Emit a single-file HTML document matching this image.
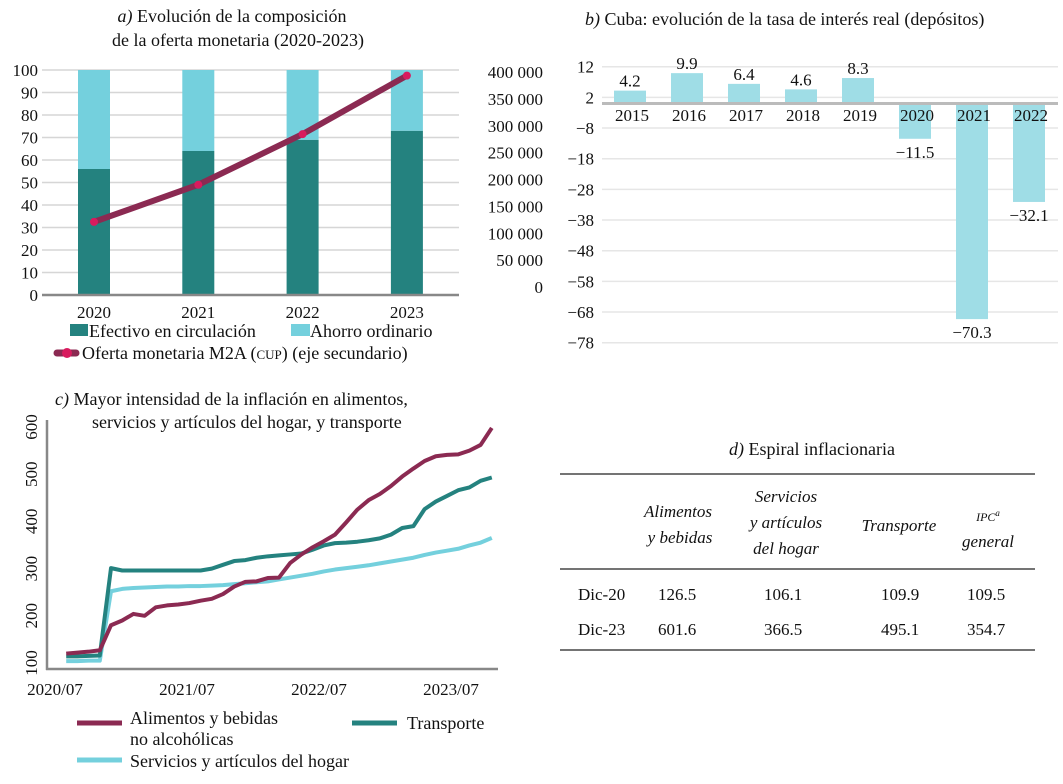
<!DOCTYPE html>
<html><head><meta charset="utf-8"><style>
html,body{margin:0;padding:0;background:#fff}
svg, svg text{font-family:"Liberation Serif","DejaVu Serif",serif}
</style></head><body>
<svg id="s" width="1063" height="779" viewBox="0 0 1063 779" xmlns="http://www.w3.org/2000/svg" font-family="Liberation Serif, serif">
<g id="pa"></g>
<g id="pb"></g>
<g id="pc"></g>
<g id="pd" font-size="17" fill="#111">
 <text x="812" y="455" text-anchor="middle" font-size="18"><tspan font-style="italic">d)</tspan> Espiral inflacionaria</text>
 <line x1="560" y1="474" x2="1035" y2="474" stroke="#222" stroke-width="1.3"/>
 <line x1="560" y1="569" x2="1035" y2="569" stroke="#222" stroke-width="1.3"/>
 <line x1="560" y1="650" x2="1035" y2="650" stroke="#222" stroke-width="1.3"/>
 <g font-style="italic" text-anchor="middle">
  <text x="678" y="517">Alimentos</text>
  <text x="680" y="543">y bebidas</text>
  <text x="786" y="502">Servicios</text>
  <text x="786" y="528">y artículos</text>
  <text x="786" y="554">del hogar</text>
  <text x="899" y="531">Transporte</text>
  <text x="988" y="521" font-size="12">IPC<tspan font-size="9" dy="-5">a</tspan></text>
  <text x="988" y="547">general</text>
 </g>
 <g>
  <text x="578" y="600">Dic-20</text><text x="658" y="600">126.5</text><text x="764" y="600">106.1</text><text x="881" y="600">109.9</text><text x="967" y="600">109.5</text>
 </g>
 <g>
  <text x="578" y="635">Dic-23</text><text x="658" y="635">601.6</text><text x="764" y="635">366.5</text><text x="881" y="635">495.1</text><text x="967" y="635">354.7</text>
 </g>
</g>
</svg>
<script>
// ---- Panel a data ----
const aYears = ["2020","2021","2022","2023"];
const aEfectivo = [56, 64, 69, 73];
const aAhorro = [44, 36, 31, 27];
const aM2A = [130000, 196000, 286000, 390000];
const aLeftTicks = [0,10,20,30,40,50,60,70,80,90,100];
const aRightTicks = [0,50000,100000,150000,200000,250000,300000,350000,400000];
// ---- Panel b data ----
const bYears = ["2015","2016","2017","2018","2019","2020","2021","2022"];
const bRates = [4.2, 9.9, 6.4, 4.6, 8.3, -11.5, -70.3, -32.1];
const bTicks = [12,2,-8,-18,-28,-38,-48,-58,-68,-78];
// ---- Panel c data (monthly, 2020/08 .. 2023/10) ----
const cFood = [120,122,124,127,180,190,204,200,218,222,224,227,232,236,246,262,272,273,280,281,312,330,345,358,372,398,425,445,458,475,495,512,528,538,541,542,550,562,598];
const cTransport = [114,114,115,116,301,296,296,296,296,296,296,296,296,300,308,316,318,323,326,328,330,332,340,349,354,355,357,360,364,372,386,390,426,442,454,466,472,486,493];
const cServices = [104,104,105,105,252,257,259,260,261,262,262,263,263,264,265,267,269,271,273,277,281,285,289,294,298,301,304,307,311,315,319,323,329,334,338,342,349,355,365];
const cTicks = [100,200,300,400,500,600];
const cXLabels = ["2020/07","2021/07","2022/07","2023/07"];

const NS="http://www.w3.org/2000/svg";
function mk(parent,tag,attrs,txt){const e=document.createElementNS(NS,tag);for(const k in attrs)e.setAttribute(k,attrs[k]);if(tag==='text')e.setAttribute('font-family','Liberation Serif, serif');if(txt!==undefined)e.textContent=txt;parent.appendChild(e);return e;}

// ===== Panel a =====
(function(){
 const g=document.getElementById('pa');
 const y=v=>295-v*2.25;
 const y2=v=>295-v/400000*225;
 const xc=i=>94+i*104.3;
 let t=mk(g,'text',{x:232,y:22,'text-anchor':'middle','font-size':18,fill:'#111'});
 
 
 t.innerHTML='<tspan font-style="italic">a)</tspan> Evolución de la composición';
 t=mk(g,'text',{x:238,y:46,'text-anchor':'middle','font-size':18,fill:'#111'},'de la oferta monetaria (2020-2023)');
 
 
 aLeftTicks.forEach(v=>{
  if(v>0){const l=mk(g,'line',{x1:42,x2:459,y1:y(v),y2:y(v),stroke:'#d6d6d6','stroke-width':1.5});
  
  }
  const tx=mk(g,'text',{x:38,y:y(v)+6,'text-anchor':'end','font-size':17,fill:'#111'},String(v));
  
  
 });
 aRightTicks.forEach(v=>{
  const ly=293-v/400000*215;
  const tx=mk(g,'text',{x:543,y:ly,'text-anchor':'end','font-size':17,fill:'#111'},v===0?'0':(v/1000)+' 000');
  
  
 });
 aYears.forEach((yr,i)=>{
  const r1=mk(g,'rect',{x:xc(i)-16,y:y(aEfectivo[i]),width:32,height:y(0)-y(aEfectivo[i]),fill:'#24827f'});
  
  
  const top=aEfectivo[i]+aAhorro[i];
  const r2=mk(g,'rect',{x:xc(i)-16,y:y(top),width:32,height:y(aEfectivo[i])-y(top),fill:'#74d0dd'});
  
  
  const tx=mk(g,'text',{x:xc(i),y:318,'text-anchor':'middle','font-size':17,fill:'#111'},yr);
  
  
 });
 const ax=mk(g,'line',{x1:42,x2:459,y1:295,y2:295,stroke:'#888','stroke-width':2.5});
 
 
 const pts=aM2A.map((v,i)=>xc(i)+','+y2(v)).join(' ');
 const pl=mk(g,'polyline',{points:pts,fill:'none',stroke:'#8b2a52','stroke-width':6,'stroke-linecap':'round'});
 
 
 aM2A.forEach((v,i)=>{const c=mk(g,'circle',{cx:xc(i),cy:y2(v),r:4,fill:'#d81b5e'});
  
  });
 let s=mk(g,'rect',{x:70,y:324,width:18,height:12,fill:'#24827f'});
 
 
 t=mk(g,'text',{x:89,y:337,'font-size':18,fill:'#111'},'Efectivo en circulación');
 
 
 s=mk(g,'rect',{x:291,y:324,width:19,height:12,fill:'#74d0dd'});
 
 
 t=mk(g,'text',{x:310,y:337,'font-size':18,fill:'#111'},'Ahorro ordinario');
 
 
 s=mk(g,'line',{x1:57,x2:76,y1:353,y2:353,stroke:'#8b2a52','stroke-width':7,'stroke-linecap':'round'});
 
 
 s=mk(g,'circle',{cx:67,cy:353,r:5,fill:'#d81b5e'});
 
 
 t=mk(g,'text',{x:82,y:359,'font-size':18,fill:'#111'});
 
 
 t.innerHTML='Oferta monetaria M2A (<tspan font-size="13">CUP</tspan>) (eje secundario)';
})();

// ===== Panel b =====
(function(){
 const g=document.getElementById('pb');
 const y=v=>103.5-v*3.067;
 const xc=i=>630+i*57;
 let t=mk(g,'text',{x:585,y:25,'font-size':18,fill:'#111'});
 
 
 t.innerHTML='<tspan font-style="italic">b)</tspan> Cuba: evolución de la tasa de interés real (depósitos)';
 bTicks.forEach(v=>{
  const l=mk(g,'line',{x1:602,x2:1058,y1:y(v),y2:y(v),stroke:'#e6e6e6','stroke-width':1.5});
  
  
  const tx=mk(g,'text',{x:594,y:y(v)+6,'text-anchor':'end','font-size':17,fill:'#111'},v<0?'\u2212'+(-v):String(v));
  
  
 });
 bYears.forEach((yr,i)=>{
  const v=bRates[i];
  const r=mk(g,'rect',{x:xc(i)-16,y:Math.min(y(v),y(0)),width:32,height:Math.abs(y(v)-y(0)),fill:'#9fdde6'});
  
  
  const lbl=(v<0?'\u2212'+(-v).toFixed(1):v.toFixed(1));
  const ly=v>=0?y(v)-4:y(v)+19;
  const tx=mk(g,'text',{x:xc(i),y:ly,'text-anchor':'middle','font-size':17,fill:'#111'},lbl);
  
  
 });
 const ax=mk(g,'line',{x1:602,x2:1058,y1:y(0),y2:y(0),stroke:'#bbb','stroke-width':3});
 
 
 bYears.forEach((yr,i)=>{
  const tx=mk(g,'text',{x:xc(i)+2,y:121,'text-anchor':'middle','font-size':17,fill:'#111'},yr);
  
  
 });
})();

// ===== Panel c =====
(function(){
 const g=document.getElementById('pc');
 const y=v=>663-(v-100)*0.472;
 const xm=m=>55+m*11.2;
 let t=mk(g,'text',{x:55,y:405,'font-size':18,fill:'#111'});
 
 
 t.innerHTML='<tspan font-style="italic">c)</tspan>  Mayor intensidad de la inflación en alimentos,';
 t=mk(g,'text',{x:92,y:428,'font-size':18,fill:'#111'},'servicios y artículos del hogar, y transporte');
 
 
 cTicks.forEach(v=>{
  const tx=mk(g,'text',{x:0,y:0,'text-anchor':'middle','font-size':17,fill:'#111',transform:'translate(37,'+y(v)+') rotate(-90)'},String(v));
  
  
 });
 cXLabels.forEach((l,i)=>{
  const tx=mk(g,'text',{x:55+i*132,y:695,'text-anchor':'middle','font-size':17,fill:'#111'},l);
  
  
 });
 const ya=mk(g,'line',{x1:47,x2:47,y1:420,y2:670,stroke:'#888','stroke-width':2.5});
 
 
 const xa=mk(g,'line',{x1:46,x2:498,y1:669,y2:669,stroke:'#888','stroke-width':2.5});
 
 
 const series=[[cServices,'#74d0dd','line-servicios'],[cTransport,'#24827f','line-transporte'],[cFood,'#8b2a52','line-alimentos']];
 series.forEach(([arr,col,name])=>{
  const pts=arr.map((v,i)=>xm(i+1)+','+y(v)).join(' ');
  const p=mk(g,'polyline',{points:pts,fill:'none',stroke:col,'stroke-width':4,'stroke-linejoin':'round'});
  
  
 });
 let s=mk(g,'line',{x1:77,x2:122,y1:723,y2:723,stroke:'#8b2a52','stroke-width':5});
 
 
 t=mk(g,'text',{x:130,y:724,'font-size':18,fill:'#111'},'Alimentos y bebidas');
 
 
 t=mk(g,'text',{x:130,y:745,'font-size':18,fill:'#111'},'no alcohólicas');
 
 
 s=mk(g,'line',{x1:352,x2:397,y1:723,y2:723,stroke:'#24827f','stroke-width':5});
 
 
 t=mk(g,'text',{x:407,y:729,'font-size':18,fill:'#111'},'Transporte');
 
 
 s=mk(g,'line',{x1:77,x2:122,y1:760,y2:760,stroke:'#74d0dd','stroke-width':5});
 
 
 t=mk(g,'text',{x:130,y:767,'font-size':18,fill:'#111'},'Servicios y artículos del hogar');
 
 
})();
</script>
</body></html>
